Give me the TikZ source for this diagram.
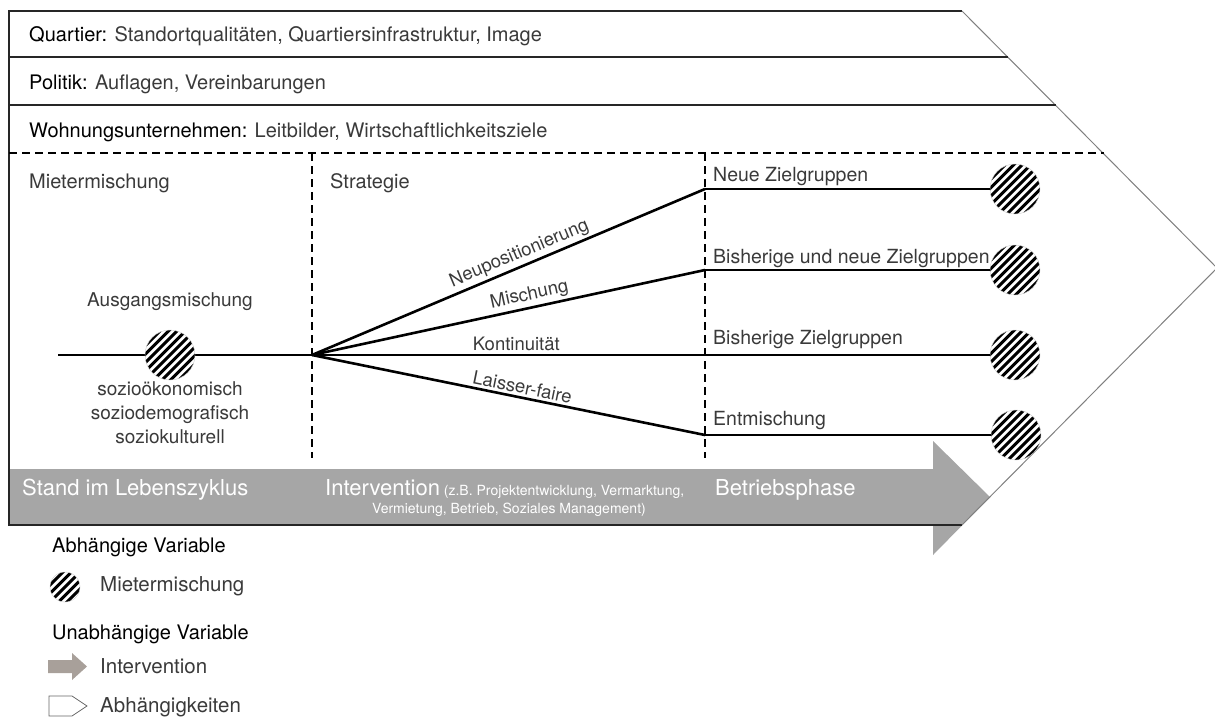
\documentclass[tikz,border=0pt]{standalone}
\usepackage{fontspec}
\setmainfont{TeX Gyre Heros}
\usetikzlibrary{calc}
\definecolor{txt}{HTML}{3A3A3A}
\definecolor{band}{HTML}{A6A6A6}
\definecolor{legarrow}{HTML}{A8A09A}
\begin{document}
\begin{tikzpicture}[x=1pt,y=-1pt,
  every node/.style={inner sep=0pt},
  rowtxt/.style={anchor=base west, font=\fontsize{20}{24}\selectfont, text=txt},
  lbl/.style={font=\fontsize{19}{23}\selectfont, text=txt},
  outlbl/.style={anchor=base west, font=\fontsize{19.5}{23}\selectfont, text=txt},
  strat/.style={font=\fontsize{18.5}{22}\selectfont, text=txt, sloped, above, inner sep=2.5pt},
  bandtxt/.style={anchor=base west, font=\fontsize{22}{26}\selectfont, text=white},
  legh/.style={anchor=base west, font=\fontsize{20}{24}\selectfont, text=black},
  legt/.style={anchor=base west, font=\fontsize{20.5}{24}\selectfont, text=txt},
  mainline/.style={line width=2.6pt, black},
  sepline/.style={line width=1.8pt, black!85},
  dashline/.style={line width=1.5pt, black, dash pattern=on 8pt off 5pt},
  edgeline/.style={line width=1pt, black!50},
  hatchc/.style={circle, fill=white, draw=black!20, line width=0.4pt, minimum size=#1,
    path picture={\foreach \k in {-8,...,8}
      \draw[line width=3pt, black] ([xshift=\k*8.5pt]path picture bounding box.center) ++(-40pt,-40pt) -- ++(80pt,80pt);}},
]
\useasboundingbox (0,0) rectangle (1215,717);

% gray intervention band
\fill[band] (9,469) -- (933,469) -- (933,441) -- (990,497) -- (933,555) -- (933,525) -- (9,525) -- cycle;

% outer frame (Abhängigkeiten)
\coordinate (tl) at (9,11);
\coordinate (tr) at (962,11);
\coordinate (tip) at (1217,268);
\coordinate (br) at (962,525);
\coordinate (bl) at (9,525);
\draw[line width=1.3pt, black!85] (tr) -- (tl) -- (bl) -- (br);
\draw[edgeline] (tr) -- (tip) -- (br);

% row separators
\draw[sepline] (9,57) -- (1008,57);
\draw[sepline] (9,105) -- (1056,105);
\draw[dashline] (9,153) -- (1104,153);

% vertical dashed separators
\draw[dashline] (312,153) -- (312,458);
\draw[dashline] (705,153) -- (705,458);

% row texts
\node[rowtxt] (q) at (29,42) {\textcolor{black}{Quartier:} Standortqualitäten, Quartiersinfrastruktur, Image};
\node[rowtxt] (p) at (29,89) {\textcolor{black}{Politik:} Auflagen, Vereinbarungen};
\node[rowtxt] (w) at (29,137) {\textcolor{black}{Wohnungsunternehmen:} Leitbilder, Wirtschaftlichkeitsziele};

% column headers
\node[rowtxt] (hm) at (29,188) {Mietermischung};
\node[rowtxt] (hs) at (330,188) {Strategie};

% strategy network
\coordinate (l0) at (58,355);
\coordinate (b) at (312,355);
\coordinate (t1) at (705,189);
\coordinate (t2) at (705,270);
\coordinate (t3) at (705,355);
\coordinate (t4) at (705,435);
\node[hatchc=50pt] (c1) at (1015,189) {};
\node[hatchc=50pt] (c2) at (1015,270) {};
\node[hatchc=50pt] (c3) at (1015,355) {};
\node[hatchc=50pt] (c4) at (1016,435) {};

\draw[mainline] (l0) -- (b);
\node[hatchc=50pt] (c0) at (170,355) {};
\draw[mainline] (b) -- node[strat, pos=0.54] {Neupositionierung} (t1);
\draw[mainline] (b) -- node[strat, pos=0.56] {Mischung} (t2);
\draw[mainline] (b) -- node[strat, pos=0.52] {Kontinuität} (t3);
\draw[mainline] (b) -- node[strat, pos=0.53] {Laisser-faire} (t4);
\draw[mainline] (t1) -- (c1);
\draw[mainline] (t2) -- (c2);
\draw[mainline] (t3) -- (c3);
\draw[mainline] (t4) -- (c4);

% outcome labels
\node[outlbl] (o1) at (713,181) {Neue Zielgruppen};
\node[outlbl] (o2) at (713,263) {Bisherige und neue Zielgruppen};
\node[outlbl] (o3) at (713,344) {Bisherige Zielgruppen};
\node[outlbl] (o4) at (713,425) {Entmischung};

% initial mix labels
\node[lbl, anchor=base] (am) at (170,306) {Ausgangsmischung};
\node[lbl, anchor=base] (soz) at (170,395) {sozioökonomisch};
\node[lbl, anchor=base] (soz2) at (170,419) {soziodemografisch};
\node[lbl, anchor=base] (soz3) at (170,443) {soziokulturell};

% band texts
\node[bandtxt] (bt1) at (22,495) {Stand im Lebenszyklus};
\node[bandtxt] (bt2) at (325,495) {Intervention{\fontsize{14}{16}\selectfont\ (z.B. Projektentwicklung, Vermarktung,}};
\node[anchor=base, text=white, font=\fontsize{14}{16}\selectfont] (bt3) at (509,513) {Vermietung, Betrieb, Soziales Management)};
\node[bandtxt] (bt4) at (715,495) {Betriebsphase};

% legend
\node[legh] (lg1) at (52,552) {Abhängige Variable};
\node[hatchc=30pt] (lc) at (65,587) {};
\node[legt] (lg2) at (100,591) {Mietermischung};
\node[legh] (lg3) at (52,639) {Unabhängige Variable};
\fill[legarrow] (48,660) -- (72,660) -- (72,653) -- (87,666.5) -- (72,680) -- (72,673) -- (48,673) -- cycle;
\node[legt] (lg4) at (100,673) {Intervention};
\draw[line width=0.8pt, black!60] (49,696) -- (72,696) -- (87,706) -- (72,716) -- (49,716) -- cycle;
\node[legt] (lg5) at (100,712) {Abhängigkeiten};
\end{tikzpicture}
\end{document}
